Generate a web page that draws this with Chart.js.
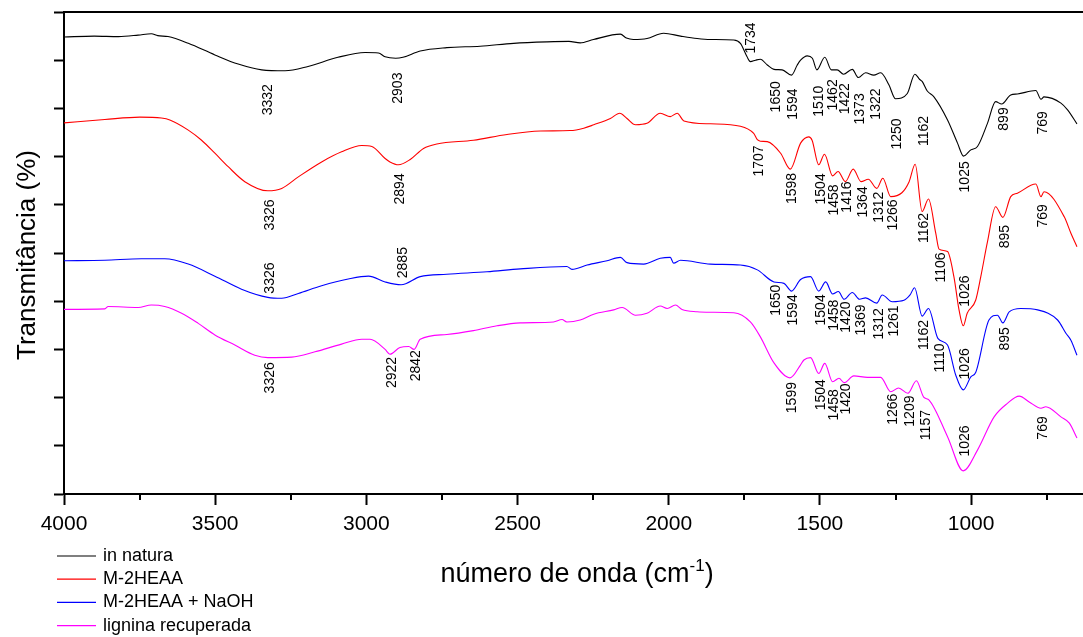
<!DOCTYPE html>
<html>
<head>
<meta charset="utf-8">
<title>FTIR</title>
<script src="https://cdn.jsdelivr.net/npm/chart.js@4.4.0/dist/chart.umd.min.js"></script>
<style>
  html, body { margin: 0; padding: 0; background: #fff; }
</style>
</head>
<body>
<canvas id="ftir" width="1083" height="637"></canvas>
<script>
// FTIR spectra, transmittance (offset, arbitrary units) vs wavenumber (cm-1)

const majorTicks = [4000, 3500, 3000, 2500, 2000, 1500, 1000];
const minorTicks = [3750, 3250, 2750, 2250, 1750, 1250, 750];

const seriesNames = ['in natura', 'M-2HEAA', 'M-2HEAA + NaOH', 'lignina recuperada'];

const inNatura = [
  [4000, 94.8], [3900, 95.0], [3820, 94.9], [3755, 95.2], [3711, 95.5], [3690, 95.1], [3656, 94.9],
  [3589, 93.5], [3501, 91.1], [3424, 89.2], [3346, 88.0], [3269, 87.8], [3193, 88.7], [3094, 90.6],
  [3004, 91.6], [2960, 91.5], [2938, 90.7], [2903, 90.4], [2879, 90.6], [2822, 91.9], [2734, 92.6],
  [2624, 92.9], [2513, 93.5], [2403, 93.8], [2330, 93.9], [2293, 93.6], [2249, 94.3], [2160, 95.4],
  [2140, 94.6], [2117, 94.3], [2072, 94.5], [2017, 95.6], [1961, 95.0], [1906, 94.5], [1862, 94.3],
  [1785, 94.2], [1763, 93.5], [1741, 90.7], [1730, 89.7], [1713, 90.0], [1697, 90.2], [1674, 89.0],
  [1652, 88.1], [1625, 88.0], [1594, 86.9], [1575, 89.0], [1564, 90.0], [1542, 90.9], [1525, 90.4],
  [1510, 88.0], [1484, 90.6], [1462, 88.0], [1443, 88.0], [1422, 87.1], [1393, 88.1], [1373, 86.4],
  [1349, 87.4], [1322, 86.9], [1299, 87.4], [1272, 84.9], [1250, 82.0], [1211, 83.1], [1186, 87.1],
  [1170, 86.0], [1162, 85.6], [1145, 83.6], [1123, 82.4], [1078, 77.6], [1045, 72.8], [1025, 70.1],
  [1001, 71.4], [979, 72.1], [946, 76.9], [919, 81.4], [899, 80.9], [869, 82.8], [847, 83.0],
  [786, 83.7], [769, 81.9], [759, 82.4], [703, 81.1], [681, 79.7], [650, 76.8]
];

const m2heaa = [
  [4000, 77.0], [3865, 77.7], [3749, 78.2], [3678, 78.0], [3650, 77.6], [3589, 75.5], [3545, 73.4],
  [3501, 70.7], [3457, 67.9], [3402, 64.8], [3326, 62.9], [3280, 63.4], [3225, 65.8], [3148, 68.9],
  [3082, 71.0], [3015, 72.3], [2982, 72.1], [2938, 69.6], [2922, 68.9], [2894, 68.3], [2855, 69.4],
  [2811, 71.7], [2767, 72.6], [2646, 73.4], [2535, 74.6], [2425, 75.3], [2326, 75.4], [2281, 75.9],
  [2248, 76.6], [2193, 77.9], [2162, 79.0], [2138, 77.9], [2110, 76.6], [2072, 76.9], [2028, 79.0],
  [1995, 78.3], [1972, 79.0], [1950, 77.4], [1862, 76.8], [1763, 76.3], [1719, 74.8], [1707, 73.5],
  [1697, 73.2], [1674, 73.1], [1630, 70.7], [1598, 67.4], [1564, 72.8], [1537, 74.1], [1526, 73.4],
  [1504, 68.3], [1485, 70.5], [1458, 66.0], [1440, 66.9], [1416, 64.8], [1390, 67.4], [1364, 64.8],
  [1340, 65.3], [1312, 63.4], [1292, 65.5], [1266, 61.7], [1229, 62.5], [1205, 64.8], [1185, 68.4],
  [1162, 58.6], [1141, 61.2], [1117, 54.1], [1106, 50.8], [1078, 50.3], [1057, 45.1], [1040, 38.2],
  [1026, 34.9], [1013, 37.5], [985, 40.2], [968, 45.1], [946, 52.3], [919, 59.6], [895, 57.4],
  [869, 61.7], [847, 62.4], [786, 64.3], [769, 61.7], [759, 62.7], [692, 57.5], [670, 54.1], [650, 51.3]
];

const m2heaaNaOH = [
  [4000, 48.4], [3865, 48.5], [3744, 48.8], [3667, 48.8], [3589, 47.7], [3501, 45.2], [3413, 42.5],
  [3326, 40.8], [3280, 40.6], [3225, 41.6], [3148, 43.2], [3060, 44.6], [2993, 45.2], [2938, 44.0],
  [2885, 43.4], [2822, 45.1], [2734, 45.6], [2601, 46.1], [2491, 46.7], [2337, 47.2], [2320, 46.6],
  [2270, 47.5], [2204, 48.4], [2160, 49.1], [2138, 48.0], [2083, 47.7], [2028, 48.9], [1995, 49.1],
  [1984, 47.9], [1961, 48.5], [1862, 47.7], [1763, 47.5], [1707, 46.5], [1652, 44.0], [1619, 43.7],
  [1594, 42.1], [1564, 44.5], [1531, 45.1], [1504, 42.1], [1481, 44.0], [1458, 41.5], [1439, 42.0],
  [1420, 40.4], [1393, 41.8], [1369, 40.4], [1349, 40.7], [1312, 39.6], [1294, 41.3], [1261, 39.9],
  [1222, 40.2], [1202, 41.3], [1187, 42.8], [1162, 36.9], [1141, 38.5], [1110, 32.3], [1078, 30.9],
  [1051, 24.7], [1026, 21.6], [1001, 24.3], [985, 25.2], [941, 36.1], [913, 37.1], [895, 35.5],
  [874, 37.8], [836, 38.5], [780, 38.2], [714, 36.1], [686, 33.3], [670, 31.9], [650, 28.8]
];

const lignina = [
  [4000, 38.3], [3865, 38.4], [3854, 38.9], [3755, 38.7], [3711, 39.2], [3667, 38.9], [3611, 37.5],
  [3556, 35.4], [3501, 33.0], [3435, 30.9], [3369, 28.8], [3326, 28.3], [3247, 28.4], [3170, 29.5],
  [3082, 31.1], [3015, 32.1], [2988, 32.1], [2938, 30.0], [2922, 29.0], [2889, 30.4], [2860, 30.6],
  [2842, 30.0], [2822, 32.1], [2734, 33.1], [2646, 33.9], [2568, 34.9], [2491, 35.5], [2381, 35.7],
  [2353, 36.2], [2337, 35.7], [2293, 36.1], [2248, 37.3], [2182, 38.2], [2154, 38.7], [2110, 37.1],
  [2072, 37.5], [2028, 39.0], [2005, 38.5], [1978, 39.2], [1956, 38.3], [1906, 37.8], [1862, 37.7],
  [1785, 37.6], [1730, 35.7], [1697, 32.6], [1652, 27.2], [1599, 24.1], [1564, 26.8], [1553, 27.8],
  [1531, 28.3], [1504, 25.0], [1484, 27.1], [1458, 23.3], [1437, 24.0], [1420, 23.1], [1388, 24.5],
  [1343, 24.2], [1299, 24.2], [1266, 21.2], [1240, 22.0], [1209, 20.9], [1181, 23.5], [1157, 20.1],
  [1139, 19.5], [1078, 11.9], [1026, 4.8], [979, 9.1], [924, 16.0], [880, 18.8], [841, 20.3],
  [808, 19.1], [769, 17.8], [753, 18.1], [703, 16.0], [675, 14.7], [650, 11.6]
];

// band assignments written next to each spectrum
const inNaturaPeaks = [3332, 2903, 1734, 1650, 1594, 1510, 1462, 1422, 1373, 1322, 1250, 1162, 1025, 899, 769];
const m2heaaPeaks = [3326, 2894, 1707, 1598, 1504, 1458, 1416, 1364, 1312, 1266, 1162, 1106, 1026, 895, 769];
const m2heaaNaOHPeaks = [3326, 2885, 1650, 1594, 1504, 1458, 1420, 1369, 1312, 1261, 1162, 1110, 1026, 895];
const ligninaPeaks = [3326, 2922, 2842, 1599, 1504, 1458, 1420, 1266, 1209, 1157, 1026, 769];

// vertical placement of each band label (centre, in y units)
const inNaturaLabelY = [81.8, 84.2, 94.6, 82.4, 80.9, 81.5, 82.8, 82.0, 79.9, 80.9, 74.7, 75.3, 65.8, 77.8, 77.0];
const m2heaaLabelY = [57.9, 63.3, 69.1, 63.4, 63.3, 61.0, 61.6, 60.6, 59.5, 57.9, 55.2, 47.0, 42.1, 53.4, 57.7];
const m2heaaNaOHLabelY = [44.8, 48.0, 40.2, 38.2, 38.2, 37.1, 36.7, 36.1, 35.3, 35.9, 33.0, 28.2, 27.0, 32.2];
const ligninaLabelY = [24.1, 25.2, 26.6, 20.0, 20.6, 18.5, 19.7, 17.6, 17.2, 14.3, 11.0, 13.7];

const FONT = "'Liberation Sans', Arial, Helvetica, sans-serif";
const colors = ['#000000', '#ff0000', '#0000ff', '#ff00ff'];
const spectra = [inNatura, m2heaa, m2heaaNaOH, lignina];
const peakSets = [
  [inNaturaPeaks, inNaturaLabelY],
  [m2heaaPeaks, m2heaaLabelY],
  [m2heaaNaOHPeaks, m2heaaNaOHLabelY],
  [ligninaPeaks, ligninaLabelY]
];

const toPoints = (rows) => rows.map(([x, y]) => ({ x, y }));

const decorations = {
  id: 'decorations',
  afterDatasetsDraw(chart) {
    const { ctx, chartArea, scales } = chart;
    const xs = scales.x;
    const ys = scales.y;
    ctx.save();

    // top frame line
    ctx.strokeStyle = '#000';
    ctx.lineWidth = 2;
    ctx.beginPath();
    ctx.moveTo(chartArea.left - 1, chartArea.top);
    ctx.lineTo(chartArea.right, chartArea.top);
    ctx.stroke();

    // minor ticks on the wavenumber axis
    minorTicks.forEach((v) => {
      const px = Math.round(xs.getPixelForValue(v));
      ctx.beginPath();
      ctx.moveTo(px, chartArea.bottom);
      ctx.lineTo(px, chartArea.bottom + 6);
      ctx.stroke();
    });

    // band labels
    ctx.fillStyle = '#000';
    ctx.font = `14px ${FONT}`;
    ctx.textAlign = 'center';
    ctx.textBaseline = 'middle';
    peakSets.forEach(([peaks, levels]) => {
      peaks.forEach((w, i) => {
        ctx.save();
        ctx.translate(xs.getPixelForValue(w) + 2, ys.getPixelForValue(levels[i]));
        ctx.rotate(-Math.PI / 2);
        ctx.fillText(String(w), 0, 0);
        ctx.restore();
      });
    });

    // y title
    ctx.save();
    ctx.font = `26px ${FONT}`;
    ctx.translate(28, 255);
    ctx.rotate(-Math.PI / 2);
    ctx.fillText('Transmitância (%)', 0, 0);
    ctx.restore();

    // x title with superscript
    const main = 'número de onda (cm';
    const sup = '-1';
    const close = ')';
    ctx.textAlign = 'left';
    ctx.textBaseline = 'alphabetic';
    ctx.font = `27px ${FONT}`;
    const wMain = ctx.measureText(main).width;
    const wClose = ctx.measureText(close).width;
    ctx.font = `17px ${FONT}`;
    const wSup = ctx.measureText(sup).width;
    const total = wMain + wSup + wClose;
    let tx = 577 - total / 2;
    const base = 582;
    ctx.font = `27px ${FONT}`;
    ctx.fillText(main, tx, base);
    tx += wMain;
    ctx.font = `17px ${FONT}`;
    ctx.fillText(sup, tx, base - 11);
    tx += wSup;
    ctx.font = `27px ${FONT}`;
    ctx.fillText(close, tx, base);

    // legend, one row per spectrum
    ctx.font = `18px ${FONT}`;
    ctx.textBaseline = 'middle';
    chart.data.datasets.forEach((ds, i) => {
      const ry = 556 + i * 23.2;
      ctx.strokeStyle = ds.borderColor;
      ctx.lineWidth = 1.2;
      ctx.beginPath();
      ctx.moveTo(57, ry);
      ctx.lineTo(96, ry);
      ctx.stroke();
      ctx.fillStyle = '#000';
      ctx.fillText(ds.label, 103, ry);
    });

    ctx.restore();
  }
};

new Chart(document.getElementById('ftir'), {
  type: 'line',
  data: {
    datasets: spectra.map((rows, i) => ({
      label: seriesNames[i],
      data: toPoints(rows),
      borderColor: colors[i],
      backgroundColor: colors[i],
      borderWidth: 1.1,
      pointRadius: 0,
      cubicInterpolationMode: 'monotone',
      fill: false
    }))
  },
  options: {
    responsive: false,
    animation: false,
    events: [],
    layout: { padding: { top: 12, right: 0, bottom: 0, left: 0 } },
    plugins: {
      legend: { display: false },
      tooltip: { enabled: false }
    },
    scales: {
      x: {
        type: 'linear',
        reverse: true,
        min: 630,
        max: 4000,
        afterBuildTicks: (scale) => {
          scale.ticks = majorTicks.map((v) => ({ value: v }));
        },
        afterFit: (scale) => { scale.height = 143; },
        ticks: {
          autoSkip: false,
          maxRotation: 0,
          padding: 7,
          color: '#000',
          font: { family: FONT, size: 21 },
          callback: (v) => String(v)
        },
        grid: {
          drawOnChartArea: false,
          drawTicks: true,
          tickLength: 11,
          tickWidth: 2,
          tickColor: '#000'
        },
        border: { display: true, color: '#000', width: 2 }
      },
      y: {
        type: 'linear',
        min: 0,
        max: 100,
        afterFit: (scale) => { scale.width = 64; },
        ticks: {
          stepSize: 10,
          padding: 0,
          callback: () => ''
        },
        grid: {
          drawOnChartArea: false,
          drawTicks: true,
          tickLength: 10,
          tickWidth: 2,
          tickColor: '#000'
        },
        border: { display: true, color: '#000', width: 2 }
      }
    }
  },
  plugins: [decorations]
});
</script>
</body>
</html>
